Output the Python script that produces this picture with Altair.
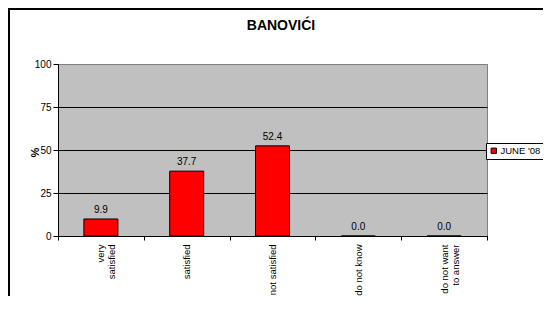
import altair as alt
import pandas as pd

categories = ["very\nsatisfied", "satisfied", "not satisfied", "do not know", "do not want\nto answer"]
values = [9.9, 37.7, 52.4, 0.0, 0.0]
series_name = "JUNE '08"
y_ticks = [0, 25, 50, 75, 100]
title_text = "BANOVIĆI"

df = pd.DataFrame({"cat": categories, "val": values, "series": [series_name] * len(values)})

W, H = 429, 172
FONT = "Liberation Sans"

x_enc = alt.X(
    "cat:N",
    sort=categories,
    scale=alt.Scale(paddingInner=0, paddingOuter=0),
    axis=alt.Axis(
        title=None,
        labelAngle=270,
        labelExpr="split(datum.label, '\\n')",
        labelFontSize=9.5,
        labelFont=FONT,
        labelColor="black",
        labelPadding=4,
        labelLineHeight=11,
        tickBand="extent",
        tickColor="black",
        tickSize=4,
        domainColor="black",
        grid=False,
    ),
)
y_enc = alt.Y(
    "val:Q",
    scale=alt.Scale(domain=[0, 100], nice=False),
    axis=alt.Axis(
        title="%",
        titleAngle=270,
        titleFont=FONT,
        titleFontSize=11,
        titleFontWeight="bold",
        titleX=-23,
        titleY=88,
        titleAlign="center",
        titleBaseline="middle",
        values=y_ticks,
        labelFontSize=10,
        labelFont=FONT,
        labelColor="black",
        labelPadding=2,
        tickColor="black",
        tickSize=5,
        domainColor="black",
        grid=True,
        gridColor={"condition": {"test": "datum.value == 100", "value": "#808080"}, "value": "black"},
        gridWidth=1,
    ),
)

bars = alt.Chart(df).mark_bar(size=34, stroke="black", strokeWidth=1).encode(
    x=x_enc,
    y=y_enc,
    color=alt.Color(
        "series:N",
        scale=alt.Scale(range=["#FF0000"]),
        legend=alt.Legend(
            title=None,
            orient="none",
            legendX=428,
            legendY=79,
            strokeColor="black",
            fillColor="white",
            padding=3,
            cornerRadius=0,
            symbolType="square",
            symbolSize=28,
            symbolStrokeColor="black",
            symbolStrokeWidth=1,
            labelFontSize=9.5,
            labelFont=FONT,
            labelColor="black",
            labelOffset=2,
        ),
    ),
)

labels = alt.Chart(df).mark_text(dy=-9, fontSize=10, font=FONT, color="black").encode(
    x=alt.X("cat:N", sort=categories),
    y=alt.Y("val:Q"),
    text=alt.Text("val:Q", format=".1f"),
)

title_df = pd.DataFrame({"t": [title_text]})
title = alt.Chart(title_df).mark_text(
    fontSize=14, font=FONT, fontWeight="bold", color="black", baseline="alphabetic", align="center"
).encode(x=alt.value(223), y=alt.value(-34), text="t:N")

border = alt.Chart(title_df).mark_rect(
    filled=False, stroke="black", strokeWidth=2
).encode(x=alt.value(-49), x2=alt.value(700), y=alt.value(-55), y2=alt.value(500))

chart = alt.layer(border, bars, labels, title).properties(
    width=W,
    height=H,
    padding={"left": 50, "top": 56, "right": 56, "bottom": 60},
    autosize=alt.AutoSizeParams(type="none"),
    background="white",
).configure_view(fill="#C0C0C0", stroke="#808080", strokeWidth=1)

chart.save("out.html", embed_options={"renderer": "svg", "actions": False})
